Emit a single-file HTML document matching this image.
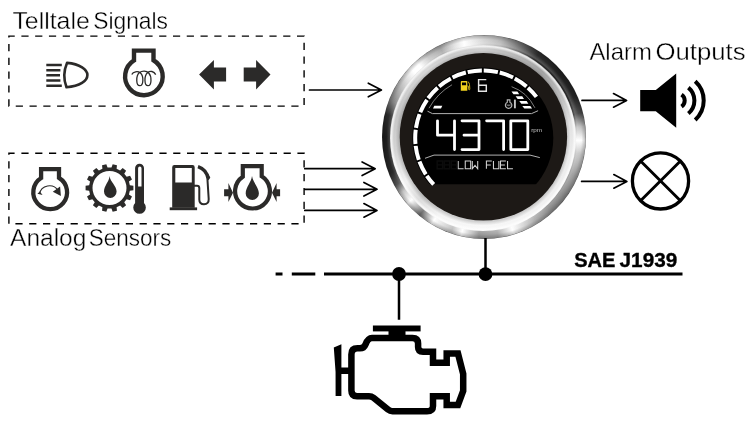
<!DOCTYPE html>
<html><head><meta charset="utf-8"><title>Gauge diagram</title>
<style>
html,body{margin:0;padding:0;background:#fff;}
body{width:752px;height:427px;position:relative;overflow:hidden;font-family:"Liberation Sans",sans-serif;}
.bz{position:absolute;border-radius:50%;}
#bz1{left:381.75px;top:35px;width:204.4px;height:204.4px;
 background:
 radial-gradient(circle closest-side at 50% 50%, rgba(255,255,255,0) 90.5%, rgba(255,255,255,.18) 92%, rgba(255,255,255,0) 95.5%, rgba(0,0,0,.22) 99.2%, rgba(40,40,40,.75) 100%),
 conic-gradient(from 0deg at 50% 50%,
 #d4d4d4 0deg,#b8b8b8 10deg,#747474 21deg,#2e2e2e 33deg,#202020 50deg,#262626 66deg,#4a4a4a 76deg,#c0c0c0 84deg,#ffffff 92deg,#c6c6c6 100deg,#9c9c9c 113deg,#888888 126deg,#8a8a8a 137deg,#acacac 148deg,#dcdcdc 157deg,#ffffff 163deg,#a8a8a8 172deg,#989898 183deg,#ffffff 193deg,#c0c0c0 199deg,#ffffff 211deg,#707070 219.5deg,#ffffff 229deg,#c4c4c4 236deg,#585858 241.5deg,#2a2a2a 249deg,#1c1c1c 270deg,#2c2c2c 283deg,#808080 291deg,#b4b4b4 300deg,#e4e4e4 308deg,#ffffff 313deg,#ffffff 318deg,#c8c8c8 325deg,#a8a8a8 334deg,#e0e0e0 342deg,#ffffff 348deg,#d4d4d4 360deg);}
#bz2{left:390.3px;top:45.2px;width:186.2px;height:186.2px;
 background:
 radial-gradient(circle closest-side at 50% 50%, rgba(0,0,0,.16) 90%, rgba(0,0,0,0) 94%, rgba(255,255,255,0) 96%, rgba(255,255,255,.75) 98.6%, rgba(255,255,255,.4) 100%),
 conic-gradient(from 0deg at 50% 50%,
 #cfcfcf 0deg,#b8b8b8 20deg,#a2a2a2 42deg,#bebebe 62deg,#e2e2e2 80deg,#ececec 100deg,#f2f2f2 140deg,#f8f8f8 180deg,#f4f4f4 210deg,#dcdcdc 226deg,#f2f2f2 240deg,#d4d4d4 262deg,#c6c6c6 285deg,#d0d0d0 305deg,#d8d8d8 320deg,#cacaca 340deg,#cfcfcf 360deg);}
svg{position:absolute;left:0;top:0;}
.t{font-family:"Liberation Sans",sans-serif;}
.thin text{stroke:#fff;stroke-width:0.35px;}
.fat text{stroke:#000;stroke-width:0.35px;}
svg{filter:blur(0.3px);}
</style></head>
<body>
<div class="bz" id="bz1"></div>
<div class="bz" id="bz2"></div>
<svg width="752" height="427" viewBox="0 0 752 427">
<g class="thin">
<text x="12.4" y="29.4" font-size="23.7" textLength="77.4" lengthAdjust="spacingAndGlyphs" class="t">Telltale</text>
<text x="93.2" y="29.4" font-size="23.7" textLength="74.8" lengthAdjust="spacingAndGlyphs" class="t">Signals</text>
<text x="10.1" y="245.6" font-size="23.3" textLength="76.2" lengthAdjust="spacingAndGlyphs" class="t">Analog</text>
<text x="88.7" y="245.6" font-size="23.3" textLength="82.5" lengthAdjust="spacingAndGlyphs" class="t">Sensors</text>
<text x="589.4" y="59.9" font-size="23.8" textLength="62.4" lengthAdjust="spacingAndGlyphs" class="t">Alarm</text>
<text x="655.4" y="59.9" font-size="23.8" textLength="90.2" lengthAdjust="spacingAndGlyphs" class="t">Outputs</text>
</g>
<g class="fat">
<text x="574.2" y="266.5" font-size="20.2" font-weight="bold" textLength="41.2" lengthAdjust="spacingAndGlyphs" class="t">SAE</text>
<text x="619.6" y="266.5" font-size="20.2" font-weight="bold" textLength="57.6" lengthAdjust="spacingAndGlyphs" class="t">J1939</text>
</g>
<path fill="none" stroke="#000" stroke-width="1.4" stroke-dasharray="7.2 6.58" stroke-dashoffset="7.2" d="M14.8 36.1 H304.1 V106.1 H8.9 V36.1 H14.8"/>
<path fill="none" stroke="#000" stroke-width="1.4" stroke-dasharray="7.2 6.6" stroke-dashoffset="7.2" d="M14.8 153.2 H304.1 V223.8 H8.9 V153.2 H14.8"/>
<g fill="none" stroke="#000" stroke-width="1.7" stroke-linejoin="round" stroke-linecap="round">
<path d="M309.5 90 H381.2 M368.3 83.2 L381.4 90 L368.3 96.8"/>
<path d="M304.8 168.7 H375 M362.1 161.9 L375.2 168.7 L362.1 175.5"/>
<path d="M304.8 189.3 H376.8 M363.9 182.5 L377 189.3 L363.9 196.1"/>
<path d="M304.8 210.4 H376.8 M363.9 203.6 L377 210.4 L363.9 217.2"/>
<path d="M582 100.4 H626.4 M613.5 93.6 L626.6 100.4 L613.5 107.2"/>
<path d="M581.6 181.4 H626.7 M613.8 174.6 L626.9 181.4 L613.8 188.2"/>
</g>
<g stroke="#000" fill="none">
<path d="M275.6 274 H282.5 M291.8 274 H315.3 M324 274 H682.5" stroke-width="2.8"/>
<path d="M399 274 V319.7 M485.5 238 V274" stroke-width="2.5"/>
</g>
<circle cx="399" cy="274" r="6.9"/><circle cx="485.5" cy="274.2" r="6.9"/>
<g fill="#000" stroke="none">
<rect x="372.9" y="325.5" width="47.7" height="5.9"/>
<rect x="388.5" y="331" width="17" height="7"/>
<path d="M333.8 347.6 L341.4 344.3 V396 H335.6 Q336.4 372 333.8 347.6Z"/>
<rect x="341" y="367.5" width="9" height="6.5"/>
</g>
<path fill="none" stroke="#000" stroke-width="6.5" stroke-linejoin="miter" d="M372 338 H412.5 Q418.1 338 418.1 343.5 V347 Q418.1 351.7 423 351.7 H433 V362.7 H446.7 V353.6 H458 L463.2 374 V391 L458 405 H446.7 V396.3 H433 V406 Q433 411.3 427 411.3 H392.5 Q390 411.3 388 409.6 L373.5 397.8 Q371.5 396.2 369 396.2 H357 Q351.4 396.2 351.4 390.5 V354.5 Q351.4 348.3 357.5 348.3 H360 Q364 348.3 365.5 344.5 Q368 338 372 338Z"/>
<path d="M640.2 89.9 H655.8 L676.2 73.6 V127.7 L655.8 111.2 H640.2Z"/>
<g fill="none" stroke="#000" stroke-width="4">
<path d="M681.53 94.63 A7.2 7.2 0 0 1 681.53 106.57"/>
<path d="M688.36 87.65 A16.9 16.9 0 0 1 688.36 113.55"/>
<path d="M695.2 81.28 A26.2 26.2 0 0 1 695.2 119.92"/>
</g>
<g fill="none" stroke="#000">
<circle cx="660.5" cy="180.9" r="28.1" stroke-width="3.3"/>
<path d="M640.56 160.96 L680.44 200.84 M680.44 160.96 L640.56 200.84" stroke-width="2.9"/>
</g>
<g stroke="#2b2a29" fill="none">
<path d="M46.3 65 H61.8 M46.3 70.2 H60.4 M46.3 75.3 H60 M46.3 80.5 H60.4 M46.3 85.7 H61.8" stroke-width="2.4"/>
<path d="M67 62.9 C80 64 87.4 69.5 87.4 75 C87.4 80.8 80 86.3 66.5 87.2 Q61.8 75 67 62.9Z" stroke-width="2.6" stroke-linejoin="round"/>
</g>
<path fill="none" stroke="#2b2a29" stroke-width="4.4" stroke-linejoin="miter" d="M134 60.42 V50.6 H153.5 V60.24 A18.8 18.8 0 1 1 134 60.42Z"/>
<path fill="none" stroke="#2b2a29" stroke-width="1.3" d="M131.8 74.6 C133 71.5 138 70.8 140.5 73 C144 76.5 143.5 85.7 139.8 85.7 C136 85.7 135.6 76 139.5 72.6 C142 70.5 146.5 70.5 148.7 73 C152 76.5 151.7 85.7 148 85.7 C144.2 85.7 143.8 76 147.7 72.6 C150 70.6 154 71 155.7 74.6"/>
<path fill="#2b2a29" d="M199.1 74.5 L213.9 60.1 V67.4 H226.1 V81.5 H213.9 V89.5Z"/>
<path fill="#2b2a29" d="M270.5 74.5 L256.1 60.1 V67.4 H243.7 V81.5 H256.1 V89.5Z"/>
<path fill="none" stroke="#2b2a29" stroke-width="4.3" stroke-linejoin="miter" d="M41.1 178.06 V169.1 H59 V177.87 A16.9 16.9 0 1 1 41.1 178.06Z"/>
<path fill="none" stroke="#2b2a29" stroke-width="1.2" d="M39.4 194 A10.2 10.2 0 0 1 58 190.5"/>
<path fill="#2b2a29" d="M60.1 186.4 L60.9 195.9 L52.8 191.8Z M37.4 193.8 L42.6 195.1 L39.8 191.4Z"/>
<path fill="#2b2a29" fill-rule="evenodd" d="M129.83 185.36 L133.4 185.8 L133.4 190.2 L129.83 190.64 L128.96 194.44 L131.99 196.39 L130.08 200.35 L126.67 199.2 L124.24 202.25 L126.12 205.32 L122.68 208.05 L120.11 205.54 L116.6 207.23 L116.96 210.81 L112.68 211.79 L111.45 208.41 L107.55 208.41 L106.32 211.79 L102.04 210.81 L102.4 207.23 L98.89 205.54 L96.32 208.05 L92.88 205.32 L94.76 202.25 L92.33 199.2 L88.92 200.35 L87.01 196.39 L90.04 194.44 L89.17 190.64 L85.6 190.2 L85.6 185.8 L89.17 185.36 L90.04 181.56 L87.01 179.61 L88.92 175.65 L92.33 176.8 L94.76 173.75 L92.88 170.68 L96.32 167.95 L98.89 170.46 L102.4 168.77 L102.04 165.19 L106.32 164.21 L107.55 167.59 L111.45 167.59 L112.68 164.21 L116.96 165.19 L116.6 168.77 L120.11 170.46 L122.68 167.95 L126.12 170.68 L124.24 173.75 L126.67 176.8 L130.08 175.65 L131.99 179.61 L128.96 181.56Z M126.5 188 A17 17 0 1 0 92.5 188 A17 17 0 1 0 126.5 188Z"/>
<path fill="#2b2a29" d="M109.6 176.1 C110.2 182.1 116.6 185.93 116.6 191.6 A6.3 6.3 0 0 1 104 191.6 C104 185.93 109 182.1 109.6 176.1Z"/>
<path fill="#2b2a29" d="M135.1 168.1 A4.45 4.45 0 0 1 144 168.1 V203 A6.3 6.3 0 1 1 135.1 203Z"/>
<path fill="#fff" d="M138.1 168.3 A1.7 1.7 0 0 1 141.5 168.3 V186.6 H138.1Z"/>
<path fill="#2b2a29" fill-rule="evenodd" d="M172.2 167.3 Q172.2 165.1 174.4 165.1 H192.5 Q194.7 165.1 194.7 167.3 V207.7 H172.2Z M175.3 167.9 V182.4 H191.8 V167.9Z"/>
<rect fill="#2b2a29" x="169.7" y="207.4" width="27.4" height="2.8"/>
<path fill="none" stroke="#2b2a29" stroke-width="2" d="M194 185.8 H197 Q199.3 185.8 199.3 188.2 V199.4 Q199.3 204.2 204 204.2 Q208.9 204.2 208.7 199 L207.4 178.5"/>
<path fill="none" stroke="#2b2a29" stroke-width="3.3" d="M198 166.6 Q206.6 169.5 208.1 178.6"/>
<path fill="#2b2a29" d="M207.6 172.5 L210.3 177.6 L208.6 180.2 L206.4 178Z"/>
<path fill="none" stroke="#2b2a29" stroke-width="4.2" stroke-linejoin="miter" d="M242.8 176.65 V166.2 H261.7 V176.33 A17.4 17.4 0 1 1 242.8 176.65Z"/>
<path fill="#2b2a29" d="M252 176.1 C252.6 182.1 258.9 187.46 258.9 193.4 A6.6 6.6 0 0 1 245.7 193.4 C245.7 187.46 251.4 182.1 252 176.1Z"/>
<path fill="#2b2a29" d="M224.1 189.2 H228.4 V183.1 L233 192.7 L228.4 202.1 V196.2 H224.1Z"/>
<path fill="#2b2a29" d="M280.1 189.2 H276.6 V183.1 L272 192.7 L276.6 202.1 V196.2 H280.1Z"/>
<circle cx="483.4" cy="136.8" r="83.7" fill="#1d1916"/>
<clipPath id="lcd"><rect x="400" y="60" width="170" height="124.3"/></clipPath>
<circle cx="482.8" cy="138" r="70.5" fill="#000" clip-path="url(#lcd)"/>
<path fill="none" stroke="#fff" stroke-width="4" d="M433.68 184.45 A67.6 67.6 0 0 1 426.82 175.9 M425.79 174.32 A67.6 67.6 0 0 1 419.44 161.56 M418.81 159.79 A67.6 67.6 0 0 1 415.66 145.89 M415.47 144.01 A67.6 67.6 0 0 1 415.7 129.76 M415.96 127.89 A67.6 67.6 0 0 1 419.56 114.11 M420.26 112.35 A67.6 67.6 0 0 1 427.02 99.81 M428.11 98.27 A67.6 67.6 0 0 1 437.65 87.68 M439.08 86.44 A67.6 67.6 0 0 1 450.86 78.42 M452.53 77.56 A67.6 67.6 0 0 1 465.87 72.55 M467.71 72.11 A67.6 67.6 0 0 1 481.86 70.41 M483.74 70.41 A67.6 67.6 0 0 1 497.89 72.11 M499.73 72.55 A67.6 67.6 0 0 1 513.07 77.56 M514.74 78.42 A67.6 67.6 0 0 1 526.52 86.44 M527.95 87.68 A67.6 67.6 0 0 1 536.43 96.85"/>
<g fill="none" stroke="#9a9a9a" stroke-width="0.8">
<path d="M429.01 108.18 A61.5 61.5 0 0 1 452.05 84.74"/>
<path d="M511.6 86.7 Q527 92 534.9 107.8"/>
<path d="M427.5 111.2 L432.4 113.6 H531.6 L538.1 110.7" stroke="#b0b0b0" stroke-width="1"/>
<path d="M425 158.3 L434 155.1 H530 L539.8 157.6" stroke="#b0b0b0" stroke-width="1"/>
</g>
<path fill="#fff" d="M434.3 105.7 H442.3 L441 108.5 H433Z"/>
<path fill="#fff" d="M511.5 91.5 H517.4 L519.2 94.2 H513.5Z"/>
<path fill="#fff" d="M515.6 96.2 H522.2 L524 98.9 H517.6Z"/>
<path fill="#fff" d="M519.3 101 H526.6 L528.4 103.7 H521.3Z"/>
<path fill="#fff" d="M522.3 105.9 H530.3 L532.1 108.6 H524.3Z"/>
<path fill="#f2d21f" fill-rule="evenodd" d="M460.8 82 Q460.8 81.1 461.7 81.1 H466.4 Q467.3 81.1 467.3 82 V90.7 H460.8Z M462 82.5 V85.3 H466.1 V82.5Z"/>
<path fill="none" stroke="#f2d21f" stroke-width="0.8" d="M467.3 86 H468 Q468.6 86 468.6 86.8 V88.8 Q468.6 89.8 469.2 89.8 Q469.9 89.8 469.8 88.8 L469.5 84.5 Q469.3 82.3 467.8 81.6"/>
<path fill="none" stroke="#e4e4e4" stroke-width="1.45" d="M486.3 79.6 H478.6 V91.2 H486.3 V85.3 H478.6"/>
<path fill="#6a6a6a" d="M505.8 104.4 H511.3 A3 3 0 0 1 505.8 104.4Z"/>
<path fill="none" stroke="#b4b4b4" stroke-width="1.15" d="M507.3 102.3 V99.9 H509.9 V102.3 A3.2 3.2 0 1 1 507.3 102.3Z"/>
<path fill="none" stroke="#c4c4c4" stroke-width="1.9" d="M514.9 99.6 V108.3"/>
<path fill="none" stroke="#fff" stroke-width="2.8" stroke-linejoin="round" stroke-linecap="round" d="M437.5 120.8 V135.2 H454.5 M454.5 120.8 V149.6 M462 120.8 H479 V149.6 H462 M464 135.2 H479 M486.6 120.8 H503.6 V149.6 M510.8 120.8 H527.8 V149.6 H510.8Z"/>
<text x="531.2" y="132.2" font-size="5.2" fill="#c4c4c4" class="t" textLength="10.8" lengthAdjust="spacingAndGlyphs">rpm</text>
<path fill="none" stroke="#d2d2d2" stroke-width="1.05" stroke-linejoin="miter" d="M458.2 161 V168.8 H463.6 M465.25 161 H470.65 V168.8 H465.25Z M472.3 161 V168.8 L475 165.4 L477.7 168.8 V161  M491.8 161 H486.4 V168.8 M486.4 164.9 H490.8 M493.45 161 V168.8 H498.85 V161 M505.9 161 H500.5 V168.8 H505.9 M500.5 164.9 H504.9 M507.55 161 V168.8 H512.95"/>
<path fill="none" stroke="#0c0c0c" stroke-width="1.4" d="M437.2 161 H442.6 V168.8 H437.2Z M437.2 164.9 H442.6 M444.25 161 H449.65 V168.8 H444.25Z M444.25 164.9 H449.65 M451.3 161 H456.7 V168.8 H451.3Z M451.3 164.9 H456.7"/>
</svg>
</body></html>
